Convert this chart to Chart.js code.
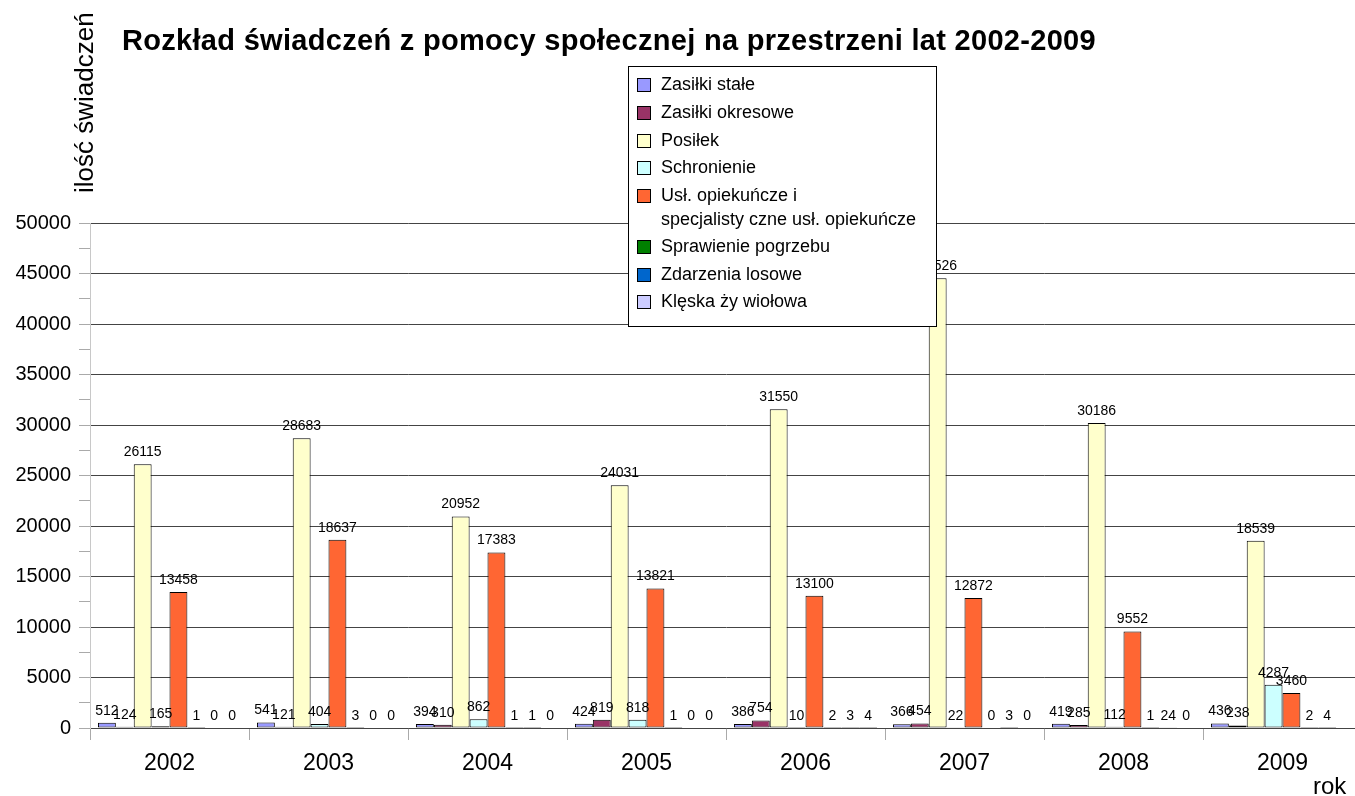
<!DOCTYPE html>
<html>
<head>
<meta charset="utf-8">
<script src="https://cdn.jsdelivr.net/npm/chart.js@4/dist/chart.umd.min.js"></script>
<style>
    html, body { margin: 0; padding: 0; background: #fff; overflow: hidden; }
    #wrap { width: 1366px; height: 796px; position: relative; }
</style>
</head>
<body>
<div id="wrap"><canvas id="chart"></canvas></div>
<script>
var years = ['2002', '2003', '2004', '2005', '2006', '2007', '2008', '2009'];

var zasilkiStale     = [512, 541, 394, 424, 386, 366, 419, 436];
var zasilkiOkresowe  = [124, 121, 310, 819, 754, 454, 285, 238];
var posilek          = [26115, 28683, 20952, 24031, 31550, 44526, 30186, 18539];
var schronienie      = [165, 404, 862, 818, 10, 22, 112, 4287];
var uslOpiekuncze    = [13458, 18637, 17383, 13821, 13100, 12872, 9552, 3460];
var pogrzeb          = [1, 3, 1, 1, 2, 0, 1, 2];
var zdarzeniaLosowe  = [0, 0, 1, 0, 3, 3, 24, 4];
var kleska           = [0, 0, 0, 0, 4, 0, 0, null];

var seriesNames = [
    'Zasiłki stałe',
    'Zasiłki okresowe',
    'Posiłek',
    'Schronienie',
    ['Usł. opiekuńcze i', 'specjalisty czne usł. opiekuńcze'],
    'Sprawienie pogrzebu',
    'Zdarzenia losowe',
    'Klęska ży wiołowa'
];
var seriesColors = ['#9999FF', '#993366', '#FFFFCC', '#CCFFFF', '#FF6633', '#008000', '#0066CC', '#CCCCFF'];
var seriesData = [zasilkiStale, zasilkiOkresowe, posilek, schronienie, uslOpiekuncze, pogrzeb, zdarzeniaLosowe, kleska];

var yTicks = [0, 5000, 10000, 15000, 20000, 25000, 30000, 35000, 40000, 45000, 50000];

var FONT = '"Liberation Sans", Arial, sans-serif';

var datasets = seriesData.map(function(d, i) {
    return {
        label: Array.isArray(seriesNames[i]) ? seriesNames[i].join(' ') : seriesNames[i],
        data: d,
        backgroundColor: seriesColors[i],
        borderColor: '#000',
        borderWidth: 1,
        borderSkipped: false
    };
});

// value labels above bars
var valueLabels = {
    id: 'valueLabels',
    afterDatasetsDraw: function(chart) {
        var ctx = chart.ctx;
        ctx.save();
        ctx.font = '14px ' + FONT;
        ctx.fillStyle = '#000';
        ctx.textAlign = 'center';
        ctx.textBaseline = 'bottom';
        chart.data.datasets.forEach(function(ds, i) {
            var meta = chart.getDatasetMeta(i);
            meta.data.forEach(function(bar, j) {
                var v = ds.data[j];
                if (v === null || v === undefined) return;
                ctx.fillText(String(v), bar.x, bar.y - 5);
            });
        });
        ctx.restore();
    }
};

// titles + legend box drawn over the plot
var overlay = {
    id: 'overlay',
    afterDraw: function(chart) {
        var ctx = chart.ctx;
        ctx.save();
        ctx.fillStyle = '#000';

        ctx.font = 'bold 29px ' + FONT;
        ctx.textAlign = 'left';
        ctx.textBaseline = 'alphabetic';
        ctx.letterSpacing = '0.3px';
        ctx.fillText('Rozkład świadczeń z pomocy społecznej na przestrzeni lat 2002-2009', 122, 50);
        ctx.letterSpacing = '0px';

        ctx.font = '24px ' + FONT;
        ctx.fillText('rok', 1313, 794);

        ctx.save();
        ctx.font = '26px ' + FONT;
        ctx.translate(93, 193);
        ctx.rotate(-Math.PI / 2);
        ctx.fillText('ilość świadczeń', 0, 0);
        ctx.restore();

        // legend
        ctx.fillStyle = '#fff';
        ctx.fillRect(628, 66, 308, 260);
        ctx.strokeStyle = '#000';
        ctx.lineWidth = 1;
        ctx.strokeRect(628.5, 66.5, 308, 260);

        var rows = [85, 113, 141, 168, 196, 247, 275, 302];
        ctx.font = '18px ' + FONT;
        ctx.textBaseline = 'middle';
        rows.forEach(function(y, i) {
            ctx.fillStyle = seriesColors[i];
            ctx.fillRect(637, y - 7, 14, 14);
            ctx.strokeStyle = '#000';
            ctx.strokeRect(637.5, y - 6.5, 13, 13);
            ctx.fillStyle = '#000';
            var name = seriesNames[i];
            if (Array.isArray(name)) {
                ctx.fillText(name[0], 661, y);
                ctx.fillText(name[1], 661, y + 24);
            } else {
                ctx.fillText(name, 661, y);
            }
        });
        ctx.restore();
    }
};

new Chart(document.getElementById('chart'), {
    type: 'bar',
    data: { labels: years, datasets: datasets },
    options: {
        responsive: true,
        maintainAspectRatio: false,
        animation: false,
        layout: { padding: { top: 223, right: 4, left: 0, bottom: 0 } },
        datasets: { bar: { categoryPercentage: 0.9, barPercentage: 1.0 } },
        plugins: {
            legend: { display: false },
            title: { display: false },
            tooltip: { enabled: false }
        },
        scales: {
            x: {
                afterFit: function(scale) { scale.height = 68; },
                grid: {
                    offset: true,
                    drawOnChartArea: false,
                    color: '#aaa',
                    tickLength: 12
                },
                border: { display: false },
                ticks: {
                    color: '#000',
                    font: { family: FONT, size: 23 },
                    padding: 10,
                    maxRotation: 0
                }
            },
            y: {
                min: 0,
                max: 50000,
                afterFit: function(scale) { scale.width = 90; },
                ticks: {
                    stepSize: 2500,
                    autoSkip: false,
                    color: '#000',
                    padding: 8,
                    font: { family: FONT, size: 20 },
                    callback: function(v) {
                        return yTicks.indexOf(v) >= 0 ? String(v) : '';
                    }
                },
                grid: {
                    color: function(c) {
                        return c.tick && c.tick.value % 5000 === 0 ? '#444' : 'rgba(0,0,0,0)';
                    },
                    tickColor: '#aaa',
                    tickLength: 11
                },
                border: { color: '#c8c8c8' }
            }
        }
    },
    plugins: [valueLabels, overlay]
});
</script>
</body>
</html>
